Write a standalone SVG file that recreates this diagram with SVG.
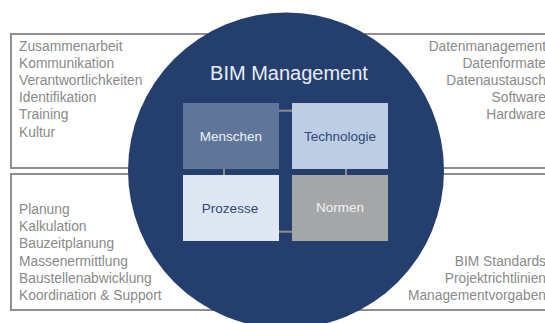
<svg xmlns="http://www.w3.org/2000/svg" width="545" height="323" viewBox="0 0 545 323">
<style>
  .frame{fill:#fff;stroke:#8e8e8e;stroke-width:2}
  .list{font-family:"Liberation Sans",Arial,sans-serif;font-size:13.8px;fill:#8a8a8a}
  .r{text-anchor:end}
  .lbl{font-family:"Liberation Sans",Arial,sans-serif;font-size:13.5px;text-anchor:middle}
  .conn{stroke:#8d8d8d;stroke-width:2;fill:none}
</style>
<rect width="545" height="323" fill="#fff"/>
<g id="frame-top">
  <rect class="frame" x="11" y="34" width="545" height="134"/>
  <text class="list" x="19" y="50.5">Zusammenarbeit</text>
  <text class="list" x="19" y="67.7">Kommunikation</text>
  <text class="list" x="19" y="84.9">Verantwortlichkeiten</text>
  <text class="list" x="19" y="102.1">Identifikation</text>
  <text class="list" x="19" y="119.3">Training</text>
  <text class="list" x="19" y="136.5">Kultur</text>
  <text class="list r" x="546" y="50.5">Datenmanagement</text>
  <text class="list r" x="546" y="67.7">Datenformate</text>
  <text class="list r" x="546" y="84.9">Datenaustausch</text>
  <text class="list r" x="546" y="102.1">Software</text>
  <text class="list r" x="546" y="119.3">Hardware</text>
</g>
<g id="frame-bottom">
  <rect class="frame" x="11" y="174" width="545" height="136"/>
  <text class="list" x="19" y="214">Planung</text>
  <text class="list" x="19" y="231.2">Kalkulation</text>
  <text class="list" x="19" y="248.4">Bauzeitplanung</text>
  <text class="list" x="19" y="265.6">Massenermittlung</text>
  <text class="list" x="19" y="282.8">Baustellenabwicklung</text>
  <text class="list" x="19" y="300">Koordination &amp; Support</text>
  <text class="list r" x="546" y="265.6">BIM Standards</text>
  <text class="list r" x="546" y="282.8">Projektrichtlinien</text>
  <text class="list r" x="546" y="300">Managementvorgaben</text>
</g>
<g id="bim-management">
  <circle cx="286" cy="170.5" r="158" fill="#243f6e"/>
  <text x="289" y="80" font-family="Liberation Sans,Arial,sans-serif" font-size="20" fill="#e8edf5" text-anchor="middle">BIM Management</text>
</g>
<g id="connectors">
  <line class="conn" x1="279" y1="110.7" x2="292" y2="110.7"/>
  <line class="conn" x1="224" y1="169" x2="224" y2="175"/>
  <line class="conn" x1="346" y1="169" x2="346" y2="175"/>
  <line class="conn" x1="279" y1="231.7" x2="292" y2="231.7"/>
</g>
<g id="menschen">
  <rect x="183" y="103" width="96" height="66" fill="#5f7599"/>
  <text class="lbl" x="231" y="141" fill="#eef2f8">Menschen</text>
</g>
<g id="technologie">
  <rect x="292" y="103" width="96" height="66" fill="#bccde4"/>
  <text class="lbl" x="340" y="141" fill="#2e4a78">Technologie</text>
</g>
<g id="prozesse">
  <rect x="183" y="175" width="96" height="66" fill="#dfe7f2"/>
  <text class="lbl" x="230" y="212.5" fill="#2e4a78">Prozesse</text>
</g>
<g id="normen">
  <rect x="292" y="175" width="96" height="66" fill="#a5a6a8"/>
  <text class="lbl" x="340" y="212" fill="#f2f2f2">Normen</text>
</g>
</svg>
